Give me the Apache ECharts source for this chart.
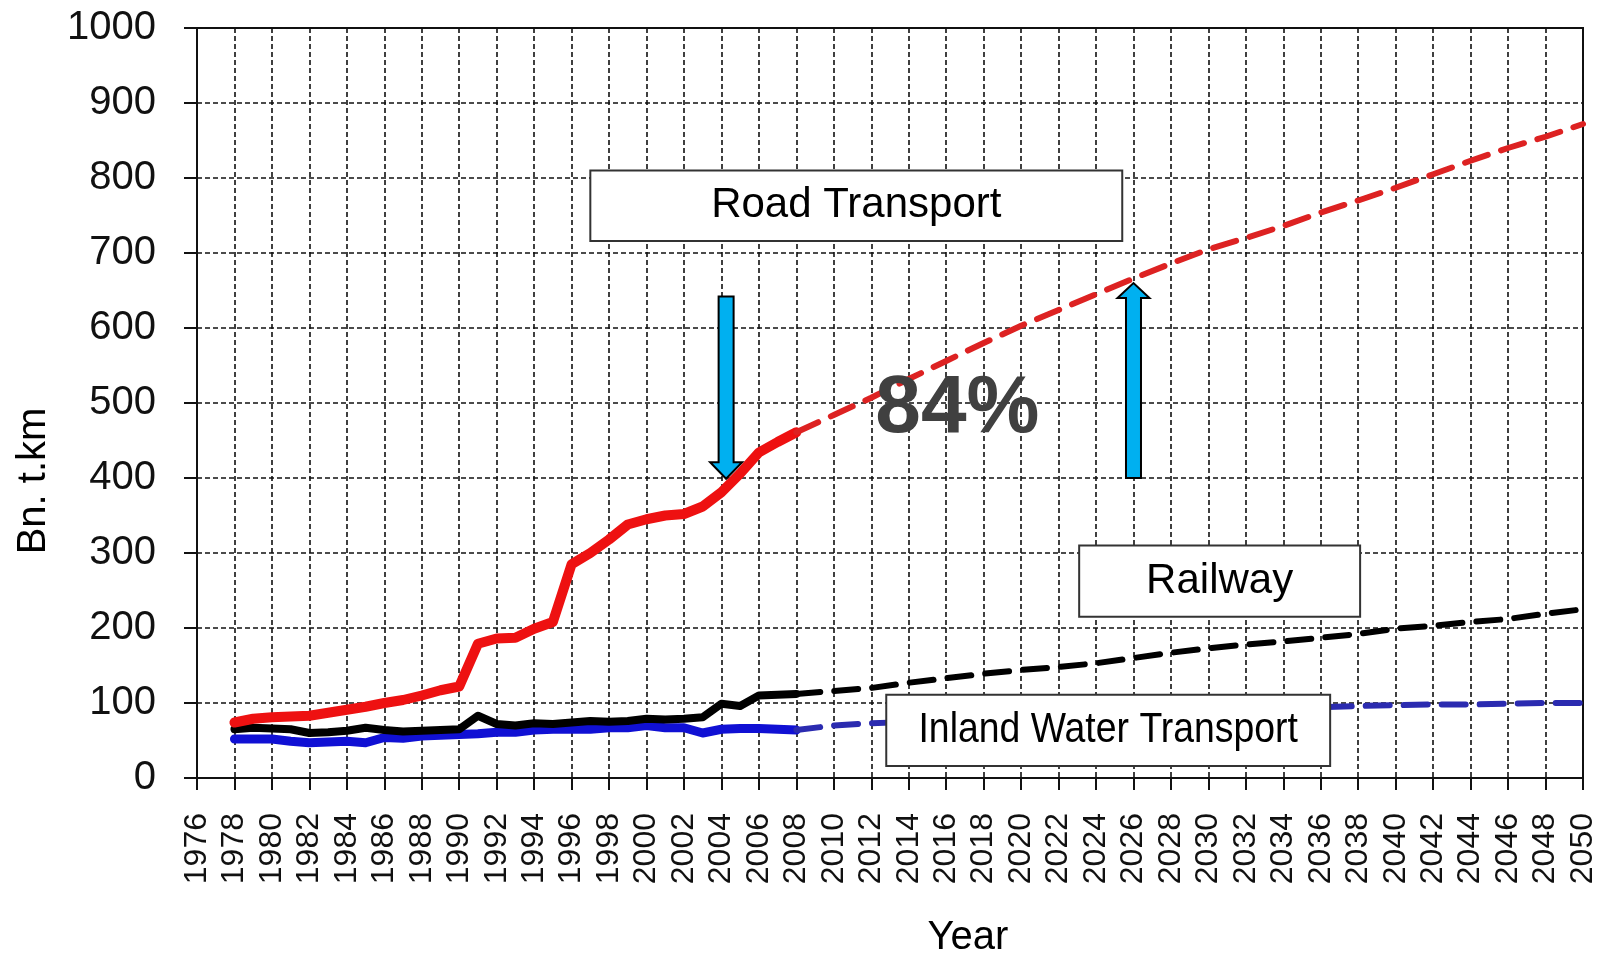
<!DOCTYPE html>
<html>
<head>
<meta charset="utf-8">
<script src="https://cdn.jsdelivr.net/npm/echarts@6/dist/echarts.min.js"></script>
<style>
  html, body { margin: 0; padding: 0; background: #fff; }
  #chart { width: 1603px; height: 956px; }
</style>
</head>
<body>
<div id="chart"></div>
<script>
// observed years 1978-2008
const histYears = [1978, 1979, 1980, 1981, 1982, 1983, 1984, 1985, 1986, 1987, 1988, 1989, 1990, 1991, 1992, 1993,
  1994, 1995, 1996, 1997, 1998, 1999, 2000, 2001, 2002, 2003, 2004, 2005, 2006, 2007, 2008]
const roadHist = [74, 79, 81, 82, 83, 87, 91, 95, 100, 104, 110, 117, 122, 179, 186, 187,
  199, 208, 285, 300, 318, 338, 345, 350, 352, 362, 381, 406, 434, 448, 461]
const railHist = [65, 67, 66, 65, 60, 61, 63, 67, 64, 62, 63, 64, 65, 83, 72, 70,
  73, 72, 74, 76, 75, 76, 79, 78, 79, 81, 99, 96, 110, 111, 112]
const waterHist = [52, 52, 52, 49, 47, 48, 49, 47, 54, 53, 56, 57, 58, 59, 61, 61,
  64, 65, 65, 65, 67, 67, 70, 67, 67, 60, 65, 66, 66, 65, 64]

// projections 2008-2050
const projYears = [2008, 2010, 2012, 2014, 2016, 2018, 2020, 2022, 2024, 2026, 2028,
  2030, 2032, 2034, 2036, 2038, 2040, 2042, 2044, 2046, 2048, 2050]
const roadProj = [461, 484, 507, 532, 556, 580, 603, 624, 645, 666, 686,
  705, 720, 736, 754, 770, 787, 805, 823, 840, 855, 872]
const railProj = [112, 116, 120, 127, 133, 139, 144, 148, 153, 160, 167,
  173, 178, 182, 187, 192, 199, 203, 208, 212, 219, 225]
// the middle part is hidden behind the label box
const waterProjYears = [2008, 2010, 2012, 2038, 2040, 2042, 2044, 2046, 2048, 2050]
const waterProj = [64, 70, 73, 96, 97, 98, 98, 99, 100, 100]

const zip = (xs, ys) => xs.map((x, i) => [x, ys[i]])
const FONT = 'Liberation Sans, Arial, sans-serif'

const chart = echarts.init(document.getElementById('chart'))

const solid = (data, color, width) => ({
  type: 'line', data, symbol: 'none', silent: true,
  lineStyle: { color, width, cap: 'round', join: 'round' }
})
const dashed = (data, color, width) => ({
  type: 'line', data, symbol: 'none', silent: true,
  lineStyle: { color, width, type: [24, 14], cap: 'round' }
})

chart.setOption({
  animation: false,
  backgroundColor: '#fff',
  grid: {
    left: 197, right: 20, top: 28, bottom: 178,
    outerBoundsMode: 'none', containLabel: false,
    show: true, borderColor: '#111', borderWidth: 2
  },
  xAxis: {
    type: 'value', min: 1976, max: 2050, interval: 2,
    name: 'Year', nameLocation: 'middle', nameGap: 140,
    nameTextStyle: { fontFamily: FONT, fontSize: 40, color: '#000', padding: [0, 0, 0, 156] },
    axisLine: { lineStyle: { color: '#111', width: 2 } },
    axisTick: { show: true, length: 12, lineStyle: { color: '#111', width: 2 } },
    axisLabel: { rotate: 90, margin: 35, fontFamily: FONT, fontSize: 32, color: '#111',
      formatter: v => String(v) },
    splitLine: { show: true, lineStyle: { color: '#111', width: 1.6, type: [5, 3] } }
  },
  yAxis: {
    type: 'value', min: 0, max: 1000, interval: 100,
    name: 'Bn. t.km', nameLocation: 'middle', nameGap: 143,
    nameTextStyle: { fontFamily: FONT, fontSize: 40, color: '#000', padding: [0, 156, 0, 0] },
    axisLine: { show: true, lineStyle: { color: '#111', width: 2 } },
    axisTick: { show: true, length: 13, lineStyle: { color: '#111', width: 2 } },
    axisLabel: { margin: 41, fontFamily: FONT, fontSize: 40, color: '#111',
      formatter: v => String(v) },
    splitLine: { show: true, lineStyle: { color: '#111', width: 1.6, type: [5, 3] } }
  },
  series: [
    solid(zip(histYears, waterHist), '#1010d4', 9),
    solid(zip(histYears, railHist), '#000', 8),
    solid(zip(histYears, roadHist), '#ee1111', 10),
    dashed(zip(waterProjYears, waterProj), '#2b2bb0', 6),
    dashed(zip(projYears, railProj), '#000', 6),
    dashed(zip(projYears, roadProj), '#dd2222', 6)
  ]
})

// annotations placed in data coordinates
const px = (x, y) => chart.convertToPixel({ gridIndex: 0 }, [x, y])

const boxes = [
  { text: 'Road Transport', x0: 1997.0, x1: 2025.4, y0: 716, y1: 810, sx: 1 },
  { text: 'Railway', x0: 2023.1, x1: 2038.1, y0: 215, y1: 310, sx: 1 },
  { text: 'Inland Water Transport', x0: 2012.8, x1: 2036.5, y0: 16, y1: 111, sx: 0.89 }
]

const arrow = (xc, yBase, yHead, yTip) => {
  const [cx, b] = px(xc, yBase)
  const h = px(xc, yHead)[1]
  const t = px(xc, yTip)[1]
  const sw = 7.5, hw = 16
  return [[cx - sw, b], [cx - sw, h], [cx - hw, h], [cx, t], [cx + hw, h], [cx + sw, h], [cx + sw, b]]
}

const graphics = []
boxes.forEach(b => {
  const [l, t] = px(b.x0, b.y1)
  const [r, btm] = px(b.x1, b.y0)
  graphics.push({
    type: 'rect', z: 100,
    shape: { x: l, y: t, width: r - l, height: btm - t },
    style: { fill: '#fff', stroke: '#333', lineWidth: 2 }
  })
  graphics.push({
    type: 'text', z: 101,
    x: (l + r) / 2, y: (t + btm) / 2, scaleX: b.sx,
    style: {
      text: b.text, font: '42px ' + FONT, fill: '#000',
      align: 'center', verticalAlign: 'middle', textAlign: 'center', textVerticalAlign: 'middle'
    }
  })
})
graphics.push({
  type: 'polygon', z: 110,
  shape: { points: arrow(2004.25, 642, 421, 399) },
  style: { fill: '#00b0f0', stroke: '#000', lineWidth: 2 }
})
graphics.push({
  type: 'polygon', z: 110,
  shape: { points: arrow(2026.0, 400, 640, 660) },
  style: { fill: '#00b0f0', stroke: '#000', lineWidth: 2 }
})
const pc = px(2016.6, 492)
graphics.push({
  type: 'text', z: 120,
  x: pc[0], y: pc[1],
  style: {
    text: '84%', font: 'bold 82px ' + FONT, fill: '#404040',
    align: 'center', verticalAlign: 'middle', textAlign: 'center', textVerticalAlign: 'middle'
  }
})

chart.setOption({ graphic: { elements: graphics } })
</script>
</body>
</html>
